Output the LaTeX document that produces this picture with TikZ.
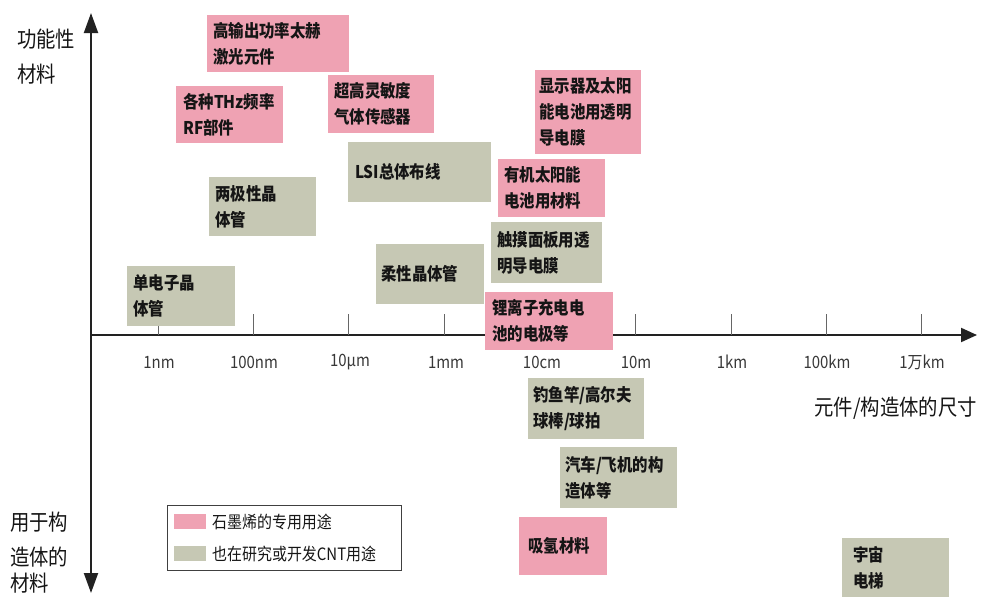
\documentclass[tikz,border=0pt]{standalone}
\usepackage{fontspec}
\setmainfont{Noto Sans CJK SC}
\newfontfamily\narrowfont{Noto Sans CJK SC}[FakeStretch=0.88]
\usetikzlibrary{arrows.meta}
\definecolor{pinkc}{HTML}{EFA2B3}
\definecolor{grayc}{HTML}{C6C8B4}
\definecolor{txt}{HTML}{151515}
\definecolor{axc}{HTML}{222222}
\tikzset{
  box/.style={anchor=north west, inner xsep=6pt, inner ysep=0pt, align=left,
    font=\narrowfont\fontsize{17.5}{26}\selectfont\bfseries, text=txt},
  pinkbox/.style={box, fill=pinkc},
  graybox/.style={box, fill=grayc},
  axline/.style={draw=axc, line width=2pt},
  axtick/.style={draw=black!60, line width=1pt},
  ticklabel/.style={font=\narrowfont\fontsize{17}{17}\selectfont, text=txt!85, inner sep=0pt},
  axlabel/.style={font=\narrowfont\fontsize{22}{22}\selectfont, text=txt, inner sep=0pt},
  swatch/.style={anchor=north west, inner sep=0pt, minimum width=32pt, minimum height=15pt},
  legtext/.style={anchor=west, inner sep=0pt, font=\narrowfont\fontsize{17}{17}\selectfont, text=txt},
}
\begin{document}
\begin{tikzpicture}[x=1pt,y=-1pt]
\useasboundingbox (0,0) rectangle (981,597);
% axes
\coordinate (top) at (91,13);
\coordinate (bot) at (91,593);
\coordinate (org) at (91,335);
\coordinate (right) at (977,335);
\draw[axline, {Triangle[width=14pt,length=20pt]}-{Triangle[width=14pt,length=20pt]}] (bot) -- (top);
\draw[axline, -{Triangle[width=14pt,length=16pt]}] (org) -- (right);
% ticks
\foreach \n/\x in {t1/158,t2/253,t3/348,t4/444,t5/540,t6/635,t7/731,t8/826,t9/921}{
  \coordinate (\n a) at (\x,314);
  \coordinate (\n b) at (\x,335);
  \draw[axtick] (\n a) -- (\n b);
}
% tick labels
\node[ticklabel] (l1) at (159,362) {1nm};
\node[ticklabel] (l2) at (254,362) {100nm};
\node[ticklabel] (l3) at (350,362) {10µm};
\node[ticklabel] (l4) at (446,362) {1mm};
\node[ticklabel] (l5) at (542,362) {10cm};
\node[ticklabel] (l6) at (636,362) {10m};
\node[ticklabel] (l7) at (732,362) {1km};
\node[ticklabel] (l8) at (827,362) {100km};
\node[ticklabel] (l9) at (922,362) {1万km};
% boxes
\node[pinkbox, text width=130pt, minimum height=57pt] (b1) at (207,15) {高输出功率太赫\\激光元件};
\node[pinkbox, text width=93pt, inner xsep=7pt, minimum height=57pt] (b2) at (176,86) {各种THz频率\\RF部件};
\node[pinkbox, text width=94pt, minimum height=58pt] (b3) at (328,75) {超高灵敏度\\气体传感器};
\node[graybox, text width=129pt, inner xsep=7pt, minimum height=60pt] (b4) at (348,142) {LSI总体布线};
\node[graybox, text width=95pt, minimum height=59pt] (b5) at (209,177) {两极性晶\\体管};
\node[graybox, text width=96pt, minimum height=60pt] (b6) at (127,266) {单电子晶\\体管};
\node[graybox, text width=98pt, inner xsep=5pt, minimum height=60pt] (b7) at (376,244) {柔性晶体管};
\node[pinkbox, text width=98pt, inner xsep=4pt, minimum height=84pt] (b8) at (535,70) {显示器及太阳\\能电池用透明\\导电膜};
\node[pinkbox, text width=95pt, minimum height=58pt] (b9) at (498,159) {有机太阳能\\电池用材料};
\node[graybox, text width=99pt, minimum height=61pt] (b10) at (491,222) {触摸面板用透\\明导电膜};
\node[pinkbox, text width=114pt, inner xsep=7pt, minimum height=58pt] (b11) at (485,292) {锂离子充电电\\池的电极等};
\node[graybox, text width=106pt, inner xsep=5pt, minimum height=61pt] (b12) at (528,378) {钓鱼竿/高尔夫\\球棒/球拍};
\node[graybox, text width=107pt, inner xsep=5pt, minimum height=61pt] (b13) at (560,447) {汽车/飞机的构\\造体等};
\node[pinkbox, text width=70pt, inner xsep=9pt, minimum height=58pt] (b14) at (519,517) {吸氢材料};
\node[graybox, text width=85pt, inner xsep=11pt, minimum height=59pt] (b15) at (842,538) {宇宙\\电梯};
% legend
\node[draw=black!75, line width=0.8pt, anchor=north west, inner sep=0pt, minimum width=234pt, minimum height=65pt] (leg) at (167,505) {};
\node[swatch, fill=pinkc] (sw1) at (174,514) {};
\node[swatch, fill=grayc] (sw2) at (174,546) {};
\node[legtext] (lt1) at (212,522) {石墨烯的专用用途};
\node[legtext] (lt2) at (212,554) {也在研究或开发CNT用途};
% axis labels
\node[axlabel, anchor=west] (yl1) at (17,39) {功能性};
\node[axlabel, anchor=west] (yl1b) at (17,74) {材料};
\node[axlabel, anchor=west] (yl2) at (10,522) {用于构};
\node[axlabel, anchor=west] (yl3) at (10,557) {造体的};
\node[axlabel, anchor=west] (yl4) at (10,583) {材料};
\node[axlabel, anchor=east] (xl) at (977,408) {元件/构造体的尺寸};
\end{tikzpicture}
\end{document}
